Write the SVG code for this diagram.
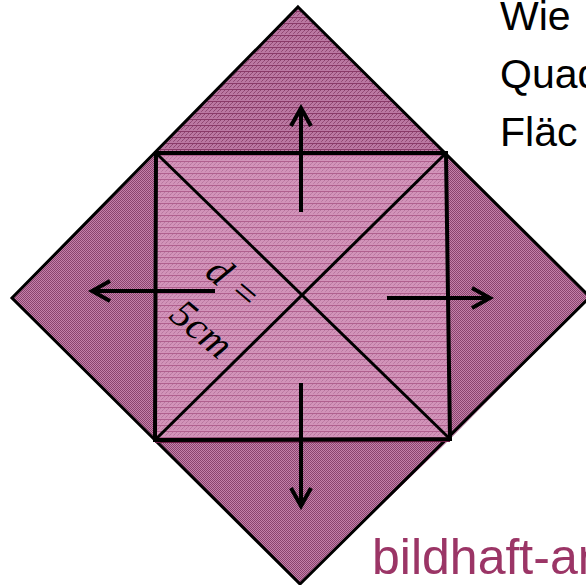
<svg xmlns="http://www.w3.org/2000/svg" width="586" height="585" viewBox="0 0 586 585">
<style>
.edge{fill:none;stroke:#000;stroke-width:3;stroke-linejoin:miter}
.inner{fill:none;stroke:#000;stroke-width:4}
.diag{stroke:#000;stroke-width:3}
.arrow{fill:none;stroke:#000;stroke-width:4;marker-end:url(#head)}
.lbl{font-family:"Liberation Serif",serif;font-style:italic;font-size:40px;fill:#000}
.q{font-family:"Liberation Sans",Arial,sans-serif;font-size:41px;fill:#000}
.brand{font-family:"Liberation Sans",Arial,sans-serif;font-size:50px;fill:#9b3566}
</style>
<defs>
<pattern id="pInner" width="4" height="6" patternUnits="userSpaceOnUse">
<rect width="4" height="6" fill="#d293b9"/>
<rect x="0" y="0" width="1" height="1" fill="#b7769e"/>
<rect x="2" y="2" width="1" height="1" fill="#b7769e"/>
<rect x="1" y="3" width="1" height="1" fill="#c07fa7"/>
<rect x="3" y="1" width="1" height="1" fill="#c07fa7"/>
<rect x="0" y="5" width="4" height="1" fill="#b0608e"/>
</pattern>
<pattern id="pTop" width="4" height="6" patternUnits="userSpaceOnUse">
<rect width="4" height="6" fill="#bb78a2"/>
<rect x="0" y="0" width="1" height="1" fill="#8e456f"/>
<rect x="2" y="2" width="1" height="1" fill="#8e456f"/>
<rect x="1" y="3" width="1" height="1" fill="#96507a"/>
<rect x="3" y="1" width="1" height="1" fill="#96507a"/>
<rect x="0" y="5" width="4" height="1" fill="#8a3a68"/>
</pattern>
<pattern id="pSide" width="2" height="2" patternUnits="userSpaceOnUse">
<rect width="2" height="2" fill="#c481aa"/>
<rect x="0" y="0" width="1" height="1" fill="#8a436e"/>
<rect x="1" y="1" width="1" height="1" fill="#8a436e"/>
</pattern>
<marker id="head" viewBox="0 0 24 24" refX="20" refY="12" markerWidth="24" markerHeight="24" markerUnits="userSpaceOnUse" orient="auto">
<path d="M2,2 L20,12 L2,22" fill="none" stroke="#000" stroke-width="4"/>
</marker>
</defs>

<g id="diamond">
<polygon id="tri-top" points="298,7 446,153 156,153" fill="url(#pTop)"/>
<polygon id="tri-right" points="446,153 590,297 450,439" fill="url(#pSide)"/>
<polygon id="tri-bottom" points="450,439 300,584 155,440" fill="url(#pSide)"/>
<polygon id="tri-left" points="155,440 12,298 156,153" fill="url(#pSide)"/>
<polygon class="edge" points="298,7 590,297 300,584 12,298"/>
</g>

<g id="square">
<polygon points="156,153 446,153 450,439 155,440" fill="url(#pInner)"/>
<line x1="155" y1="442" x2="450" y2="441" stroke="#6e1f48" stroke-width="2"/>
<line class="diag" x1="156" y1="153" x2="450" y2="439"/>
<line class="diag" x1="446" y1="153" x2="155" y2="440"/>
<polygon class="inner" points="156,153 446,153 450,439 155,440"/>
</g>

<g id="connectors">
<line class="arrow" x1="301" y1="212" x2="301" y2="108"/>
<line class="arrow" x1="215" y1="291" x2="92" y2="291"/>
<line class="arrow" x1="387" y1="298" x2="490" y2="298"/>
<line class="arrow" x1="301" y1="383" x2="301" y2="506"/>
</g>

<g id="label-d">
<text class="lbl" transform="translate(233,284) rotate(40)" text-anchor="middle" y="12">d =</text>
<text class="lbl" transform="translate(201,330) rotate(40)" text-anchor="middle" y="12">5cm</text>
</g>

<g id="question">
<text class="q" x="500" y="30">Wie</text>
<text class="q" x="500" y="88">Quad</text>
<text class="q" x="500" y="146">Fläc</text>
</g>

<text id="brand" class="brand" x="372" y="574">bildhaft-an</text>
</svg>
